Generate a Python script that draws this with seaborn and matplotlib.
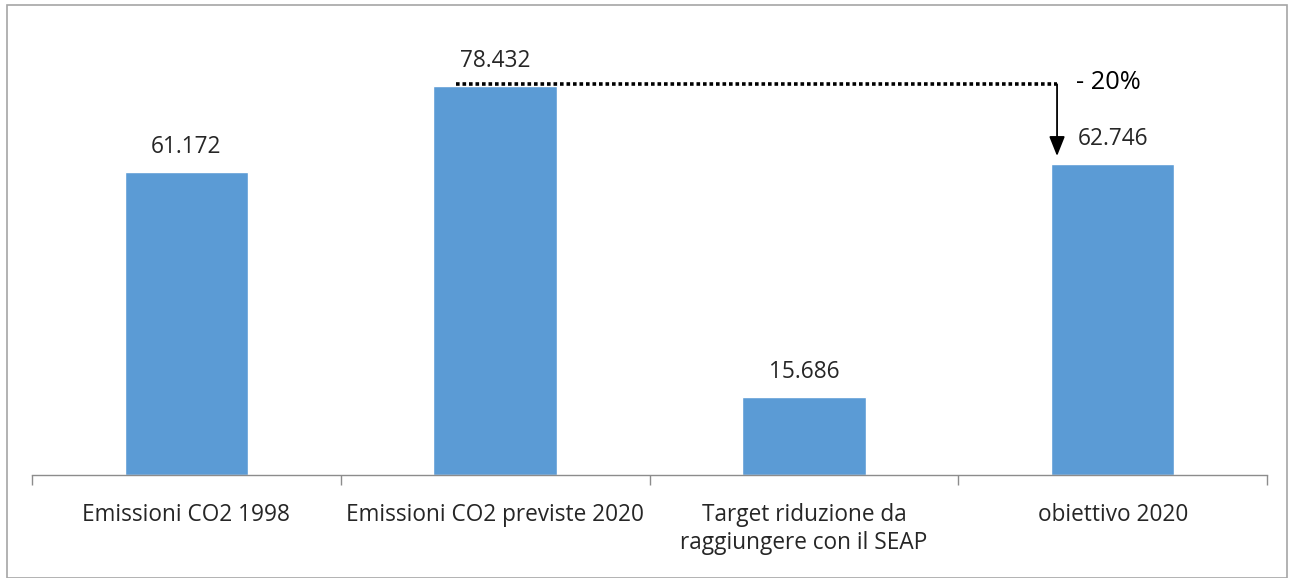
import matplotlib
matplotlib.use("Agg")
import matplotlib.pyplot as plt
import seaborn as sns
import pandas as pd
from matplotlib.ticker import FixedLocator
from matplotlib.patches import Rectangle

categories = ["Emissioni CO2 1998", "Emissioni CO2 previste 2020",
              "Target riduzione da\nraggiungere con il SEAP", "obiettivo 2020"]
values = [61.172, 78.432, 15.686, 62.746]
value_labels = ["61.172", "78.432", "15.686", "62.746"]
reduction_label = "- 20%"

sns.set_theme(style="white")
plt.rcParams['font.family'] = ['Open Sans', 'DejaVu Sans']

df = pd.DataFrame({"cat": categories, "val": values})

fig = plt.figure(figsize=(12.89, 5.78), dpi=100)
ax = fig.add_axes([32/1289, (578-475)/578, (1267-32)/1289, (475-29)/578])
sns.barplot(data=df, x="cat", y="val", color="#5B9BD5", width=0.4, ax=ax, saturation=1)

ax.set_ylim(0, 90)
ax.set_xlim(-0.5, 3.5)
ax.set_xlabel("")
ax.set_ylabel("")
ax.set_yticks([])
for s in ["top", "right", "left"]:
    ax.spines[s].set_visible(False)
ax.spines["bottom"].set_color("#8C8C8C")
ax.spines["bottom"].set_linewidth(1.0)
ax.xaxis.set_minor_locator(FixedLocator([-0.5, 0.5, 1.5, 2.5, 3.5]))
ax.tick_params(axis="x", which="minor", length=7, color="#8C8C8C", width=1, bottom=True)
ax.tick_params(axis="x", which="major", length=0, pad=20, labelsize=16.3, labelcolor="#262626")
for t in ax.get_xticklabels():
    t.set_linespacing(1.22)

for i, (v, lab) in enumerate(zip(values, value_labels)):
    ax.annotate(lab, (i, v), xytext=(0, 9.5), textcoords="offset points",
                ha="center", va="bottom", fontsize=16.3, color="#262626")

# dotted reference line and arrow
ax.plot([0.873, 2.82], [79.0, 79.0], linestyle=(0, (1, 0.8)), color="black", linewidth=2.6)
ax.annotate("", xy=(2.82, 63.8), xytext=(2.82, 79.4),
            arrowprops=dict(arrowstyle="-|>,head_width=0.4,head_length=1.0", color="black", lw=1.3))
ax.text(2.88, 79.3, reduction_label, ha="left", va="center", fontsize=18.3, color="black")

fig.patches.append(Rectangle((7/1289, 0), (1287-7)/1289, (578-5)/578, transform=fig.transFigure,
                             fill=False, edgecolor="#A6A6A6", linewidth=1.2))

fig.savefig("out.png", dpi=100, facecolor="white")
